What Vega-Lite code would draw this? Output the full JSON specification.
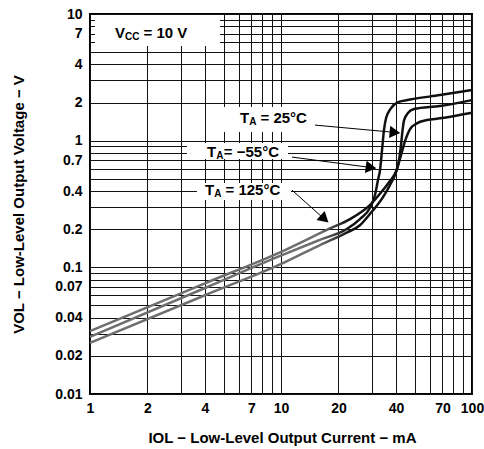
{
  "$schema": "https://vega.github.io/schema/vega-lite/v6.json",
  "width": 382,
  "height": 380,
  "autosize": {"type": "none"},
  "padding": {"left": 90, "top": 14, "right": 12, "bottom": 55},
  "background": "white",
  "config": {"view": {"stroke": "black", "strokeWidth": 2}, "font": "Liberation Sans"},
  "datasets": {
    "one": [{}],
    "curves": [
      {"I": 1, "V": 0.0282, "T": "-55"}, {"I": 4, "V": 0.0687, "T": "-55"}, {"I": 9.9, "V": 0.123, "T": "-55"}, {"I": 16, "V": 0.165, "T": "-55"}, {"I": 22.1, "V": 0.2005, "T": "-55"}, {"I": 25.9, "V": 0.2405, "T": "-55"}, {"I": 29.2, "V": 0.294, "T": "-55"}, {"I": 31.05, "V": 0.372, "T": "-55"}, {"I": 32.2, "V": 0.489, "T": "-55"}, {"I": 33.0, "V": 0.586, "T": "-55"}, {"I": 33.8, "V": 0.843, "T": "-55"}, {"I": 34.6, "V": 1.212, "T": "-55"}, {"I": 35.5, "V": 1.508, "T": "-55"}, {"I": 37.7, "V": 1.808, "T": "-55"}, {"I": 41.0, "V": 2.017, "T": "-55"}, {"I": 47.4, "V": 2.11, "T": "-55"}, {"I": 68, "V": 2.29, "T": "-55"}, {"I": 100, "V": 2.51, "T": "-55"},
      {"I": 1, "V": 0.0253, "T": "25"}, {"I": 4, "V": 0.0602, "T": "25"}, {"I": 10.5, "V": 0.110, "T": "25"}, {"I": 16, "V": 0.150, "T": "25"}, {"I": 22.1, "V": 0.188, "T": "25"}, {"I": 25.9, "V": 0.215, "T": "25"}, {"I": 29.2, "V": 0.2634, "T": "25"}, {"I": 34.2, "V": 0.3588, "T": "25"}, {"I": 37.2, "V": 0.446, "T": "25"}, {"I": 40.0, "V": 0.565, "T": "25"}, {"I": 41.5, "V": 0.703, "T": "25"}, {"I": 42.5, "V": 0.923, "T": "25"}, {"I": 43.3, "V": 1.212, "T": "25"}, {"I": 44.1, "V": 1.454, "T": "25"}, {"I": 46.2, "V": 1.651, "T": "25"}, {"I": 49.7, "V": 1.776, "T": "25"}, {"I": 68, "V": 1.876, "T": "25"}, {"I": 100, "V": 2.09, "T": "25"},
      {"I": 1, "V": 0.0314, "T": "125"}, {"I": 4, "V": 0.0748, "T": "125"}, {"I": 10.5, "V": 0.137, "T": "125"}, {"I": 18.05, "V": 0.203, "T": "125"}, {"I": 23, "V": 0.2405, "T": "125"}, {"I": 29.2, "V": 0.310, "T": "125"}, {"I": 34.2, "V": 0.4075, "T": "125"}, {"I": 37.2, "V": 0.480, "T": "125"}, {"I": 40.3, "V": 0.586, "T": "125"}, {"I": 42.5, "V": 0.770, "T": "125"}, {"I": 44.6, "V": 0.993, "T": "125"}, {"I": 47.4, "V": 1.235, "T": "125"}, {"I": 51.4, "V": 1.369, "T": "125"}, {"I": 58.1, "V": 1.454, "T": "125"}, {"I": 68, "V": 1.50, "T": "125"}, {"I": 100, "V": 1.66, "T": "125"}
    ]
  },
  "layer": [
    {"data": {"name": "one"}, "mark": {"type": "rect", "fill": "white"}, "encoding": {
      "x": {"datum": 1.062, "type": "quantitative", "scale": {"type": "log"}}, "x2": {"datum": 4.79},
      "y": {"datum": 9.8, "type": "quantitative", "scale": {"type": "log"}}, "y2": {"datum": 5.58}}},
    {"data": {"name": "one"}, "mark": {"type": "rect", "fill": "white"}, "encoding": {
      "x": {"datum": 4.79, "type": "quantitative", "scale": {"type": "log"}}, "x2": {"datum": 14.53},
      "y": {"datum": 1.842, "type": "quantitative", "scale": {"type": "log"}}, "y2": {"datum": 1.169}}},
    {"data": {"name": "one"}, "mark": {"type": "rect", "fill": "white"}, "encoding": {
      "x": {"datum": 3.22, "type": "quantitative", "scale": {"type": "log"}}, "x2": {"datum": 10.88},
      "y": {"datum": 0.957, "type": "quantitative", "scale": {"type": "log"}}, "y2": {"datum": 0.716}}},
    {"data": {"name": "one"}, "mark": {"type": "rect", "fill": "white"}, "encoding": {
      "x": {"datum": 3.63, "type": "quantitative", "scale": {"type": "log"}}, "x2": {"datum": 11.28},
      "y": {"datum": 0.463, "type": "quantitative", "scale": {"type": "log"}}, "y2": {"datum": 0.340}}},
    {
      "data": {"name": "curves"},
      "mark": {"type": "line", "interpolate": "monotone", "strokeWidth": 2.5,
        "color": {"gradient": "linear", "x1": 0, "y1": 0, "x2": 1, "y2": 0,
          "stops": [{"offset": 0, "color": "#6e6e6e"}, {"offset": 0.6, "color": "#6e6e6e"}, {"offset": 0.68, "color": "#111111"}, {"offset": 1, "color": "#111111"}]}},
      "encoding": {
        "x": {"field": "I", "type": "quantitative", "scale": {"type": "log", "domain": [1, 100], "nice": false},
          "axis": {"values": [1,2,3,4,5,6,7,8,9,10,20,30,40,50,60,70,80,90,100], "format": "~g",
            "labelExpr": "indexof([1,2,4,7,10,20,40,70,100], datum.value) >= 0 ? datum.label : ''",
            "grid": true, "gridColor": "#111", "gridWidth": 1, "gridOpacity": 1, "ticks": false, "domain": false,
            "labelFontSize": 14, "labelFontWeight": "bold", "labelColor": "#000", "labelPadding": 7, "labelFlush": false, "labelOverlap": false,
            "title": "IOL − Low-Level Output Current − mA", "titleFontSize": 15, "titleFontWeight": "bold", "titleColor": "#000",
            "titleX": 192, "titleY": 43, "titleBaseline": "middle", "titleAnchor": "middle", "titleAlign": "center"}},
        "y": {"field": "V", "type": "quantitative", "scale": {"type": "log", "domain": [0.01, 10], "nice": false},
          "axis": {"values": [0.01,0.02,0.03,0.04,0.05,0.06,0.07,0.08,0.09,0.1,0.2,0.3,0.4,0.5,0.6,0.7,0.8,0.9,1,2,3,4,5,6,7,8,9,10], "format": "~g",
            "labelExpr": "indexof([0.01,0.02,0.04,0.07,0.1,0.2,0.4,0.7,1,2,4,7,10], datum.value) >= 0 ? datum.label : ''",
            "grid": true, "gridColor": "#111", "gridWidth": 1, "gridOpacity": 1, "ticks": false, "domain": false,
            "labelFontSize": 14, "labelFontWeight": "bold", "labelColor": "#000", "labelPadding": 8, "labelFlush": false, "labelOverlap": false,
            "title": "VOL − Low-Level Output Voltage − V", "titleFontSize": 15, "titleFontWeight": "bold", "titleColor": "#000",
            "titleX": -72, "titleY": 190, "titleBaseline": "middle", "titleAnchor": "middle", "titleAlign": "center"}},
        "detail": {"field": "T"}
      }
    },
    {"data": {"name": "one"}, "mark": {"type": "rule", "color": "black", "strokeWidth": 1}, "encoding": {
      "x": {"datum": 15.07, "type": "quantitative", "scale": {"type": "log"}}, "x2": {"datum": 40.5},
      "y": {"datum": 1.327, "type": "quantitative", "scale": {"type": "log"}}, "y2": {"datum": 1.158}}},
    {"data": {"name": "one"}, "mark": {"type": "rule", "color": "black", "strokeWidth": 1}, "encoding": {
      "x": {"datum": 11.42, "type": "quantitative", "scale": {"type": "log"}}, "x2": {"datum": 30.5},
      "y": {"datum": 0.742, "type": "quantitative", "scale": {"type": "log"}}, "y2": {"datum": 0.61}}},
    {"data": {"name": "one"}, "mark": {"type": "rule", "color": "black", "strokeWidth": 1}, "encoding": {
      "x": {"datum": 11.42, "type": "quantitative", "scale": {"type": "log"}}, "x2": {"datum": 17.2},
      "y": {"datum": 0.407, "type": "quantitative", "scale": {"type": "log"}}, "y2": {"datum": 0.234}}},
    {"data": {"name": "one"}, "mark": {"type": "point", "shape": "triangle-right", "filled": true, "color": "black", "opacity": 1, "size": 150, "angle": 5.3}, "encoding": {
      "x": {"datum": 39.5, "type": "quantitative", "scale": {"type": "log"}},
      "y": {"datum": 1.161, "type": "quantitative", "scale": {"type": "log"}}}},
    {"data": {"name": "one"}, "mark": {"type": "point", "shape": "triangle-right", "filled": true, "color": "black", "opacity": 1, "size": 150, "angle": 7.8}, "encoding": {
      "x": {"datum": 29.6, "type": "quantitative", "scale": {"type": "log"}},
      "y": {"datum": 0.613, "type": "quantitative", "scale": {"type": "log"}}}},
    {"data": {"name": "one"}, "mark": {"type": "point", "shape": "triangle-right", "filled": true, "color": "black", "opacity": 1, "size": 150, "angle": 41.7}, "encoding": {
      "x": {"datum": 16.9, "type": "quantitative", "scale": {"type": "log"}},
      "y": {"datum": 0.2405, "type": "quantitative", "scale": {"type": "log"}}}},
    {"data": {"name": "one"}, "mark": {"type": "text", "text": "V", "fontSize": 15, "fontWeight": "bold", "align": "left", "baseline": "middle", "color": "black"}, "encoding": {
      "x": {"datum": 1.352, "type": "quantitative", "scale": {"type": "log"}},
      "y": {"datum": 7.07, "type": "quantitative", "scale": {"type": "log"}}}},
    {"data": {"name": "one"}, "mark": {"type": "text", "text": "CC", "fontSize": 10, "fontWeight": "bold", "align": "left", "baseline": "middle", "dx": 10, "dy": 4, "color": "black"}, "encoding": {
      "x": {"datum": 1.352, "type": "quantitative", "scale": {"type": "log"}},
      "y": {"datum": 7.07, "type": "quantitative", "scale": {"type": "log"}}}},
    {"data": {"name": "one"}, "mark": {"type": "text", "text": "= 10 V", "fontSize": 15, "fontWeight": "bold", "align": "left", "baseline": "middle", "dx": 28.5, "color": "black"}, "encoding": {
      "x": {"datum": 1.352, "type": "quantitative", "scale": {"type": "log"}},
      "y": {"datum": 7.07, "type": "quantitative", "scale": {"type": "log"}}}},
    {"data": {"name": "one"}, "mark": {"type": "text", "text": "T", "fontSize": 15, "fontWeight": "bold", "align": "left", "baseline": "middle", "color": "black"}, "encoding": {
      "x": {"datum": 6.10, "type": "quantitative", "scale": {"type": "log"}},
      "y": {"datum": 1.508, "type": "quantitative", "scale": {"type": "log"}}}},
    {"data": {"name": "one"}, "mark": {"type": "text", "text": "A", "fontSize": 10, "fontWeight": "bold", "align": "left", "baseline": "middle", "dx": 9.3, "dy": 4, "color": "black"}, "encoding": {
      "x": {"datum": 6.10, "type": "quantitative", "scale": {"type": "log"}},
      "y": {"datum": 1.508, "type": "quantitative", "scale": {"type": "log"}}}},
    {"data": {"name": "one"}, "mark": {"type": "text", "text": "= 25°C", "fontSize": 15, "fontWeight": "bold", "align": "left", "baseline": "middle", "dx": 20.5, "color": "black"}, "encoding": {
      "x": {"datum": 6.10, "type": "quantitative", "scale": {"type": "log"}},
      "y": {"datum": 1.508, "type": "quantitative", "scale": {"type": "log"}}}},
    {"data": {"name": "one"}, "mark": {"type": "text", "text": "T", "fontSize": 15, "fontWeight": "bold", "align": "left", "baseline": "middle", "color": "black"}, "encoding": {
      "x": {"datum": 4.10, "type": "quantitative", "scale": {"type": "log"}},
      "y": {"datum": 0.813, "type": "quantitative", "scale": {"type": "log"}}}},
    {"data": {"name": "one"}, "mark": {"type": "text", "text": "A", "fontSize": 10, "fontWeight": "bold", "align": "left", "baseline": "middle", "dx": 9.3, "dy": 4, "color": "black"}, "encoding": {
      "x": {"datum": 4.10, "type": "quantitative", "scale": {"type": "log"}},
      "y": {"datum": 0.813, "type": "quantitative", "scale": {"type": "log"}}}},
    {"data": {"name": "one"}, "mark": {"type": "text", "text": "= −55°C", "fontSize": 15, "fontWeight": "bold", "align": "left", "baseline": "middle", "dx": 16.8, "color": "black"}, "encoding": {
      "x": {"datum": 4.10, "type": "quantitative", "scale": {"type": "log"}},
      "y": {"datum": 0.813, "type": "quantitative", "scale": {"type": "log"}}}},
    {"data": {"name": "one"}, "mark": {"type": "text", "text": "T", "fontSize": 15, "fontWeight": "bold", "align": "left", "baseline": "middle", "color": "black"}, "encoding": {
      "x": {"datum": 4.00, "type": "quantitative", "scale": {"type": "log"}},
      "y": {"datum": 0.407, "type": "quantitative", "scale": {"type": "log"}}}},
    {"data": {"name": "one"}, "mark": {"type": "text", "text": "A", "fontSize": 10, "fontWeight": "bold", "align": "left", "baseline": "middle", "dx": 9.3, "dy": 4, "color": "black"}, "encoding": {
      "x": {"datum": 4.00, "type": "quantitative", "scale": {"type": "log"}},
      "y": {"datum": 0.407, "type": "quantitative", "scale": {"type": "log"}}}},
    {"data": {"name": "one"}, "mark": {"type": "text", "text": "= 125°C", "fontSize": 15, "fontWeight": "bold", "align": "left", "baseline": "middle", "dx": 20.5, "color": "black"}, "encoding": {
      "x": {"datum": 4.00, "type": "quantitative", "scale": {"type": "log"}},
      "y": {"datum": 0.407, "type": "quantitative", "scale": {"type": "log"}}}}
  ]
}
